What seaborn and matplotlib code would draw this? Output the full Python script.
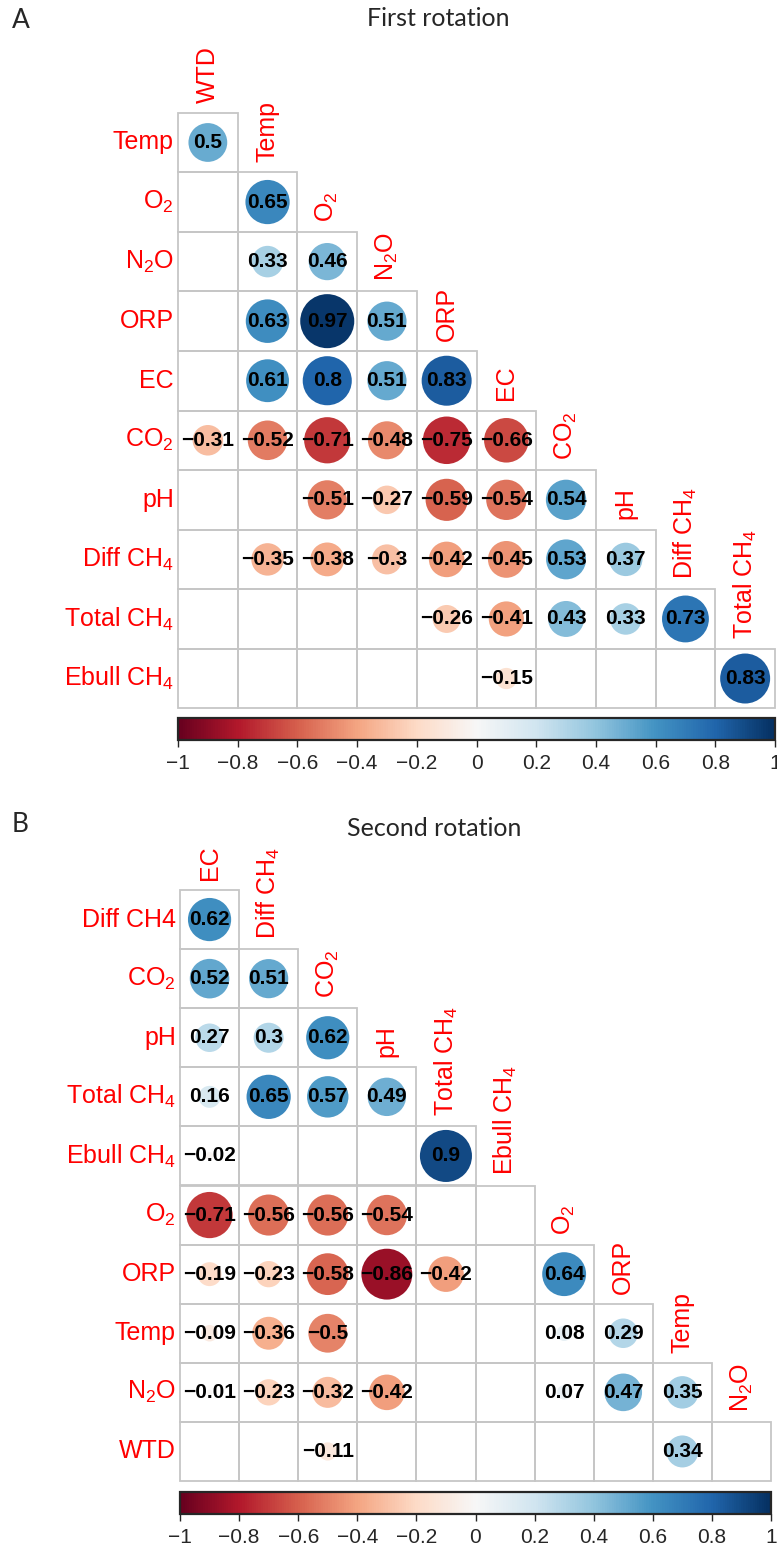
import numpy as np
import pandas as pd
import seaborn as sns
import matplotlib.pyplot as plt
from matplotlib.colors import ListedColormap, Normalize
from matplotlib.cm import ScalarMappable
from matplotlib.patches import Rectangle

# ---- data (None = not significant, left blank) ----
rows_a = ["Temp", "O$_2$", "N$_2$O", "ORP", "EC", "CO$_2$", "pH",
          "Diff CH$_4$", "Total CH$_4$", "Ebull CH$_4$"]
cols_a = ["WTD", "Temp", "O$_2$", "N$_2$O", "ORP", "EC", "CO$_2$", "pH",
          "Diff CH$_4$", "Total CH$_4$"]
corr_a = [
    [0.5],
    [None, 0.65],
    [None, 0.33, 0.46],
    [None, 0.63, 0.97, 0.51],
    [None, 0.61, 0.8, 0.51, 0.83],
    [-0.31, -0.52, -0.71, -0.48, -0.75, -0.66],
    [None, None, -0.51, -0.27, -0.59, -0.54, 0.54],
    [None, -0.35, -0.38, -0.3, -0.42, -0.45, 0.53, 0.37],
    [None, None, None, None, -0.26, -0.41, 0.43, 0.33, 0.73],
    [None, None, None, None, None, -0.15, None, None, None, 0.83],
]

rows_b = ["Diff CH4", "CO$_2$", "pH", "Total CH$_4$", "Ebull CH$_4$", "O$_2$",
          "ORP", "Temp", "N$_2$O", "WTD"]
cols_b = ["EC", "Diff CH$_4$", "CO$_2$", "pH", "Total CH$_4$", "Ebull CH$_4$",
          "O$_2$", "ORP", "Temp", "N$_2$O"]
corr_b = [
    [0.62],
    [0.52, 0.51],
    [0.27, 0.3, 0.62],
    [0.16, 0.65, 0.57, 0.49],
    [-0.02, None, None, None, 0.9],
    [-0.71, -0.56, -0.56, -0.54, None, None],
    [-0.19, -0.23, -0.58, -0.86, -0.42, None, 0.64],
    [-0.09, -0.36, -0.5, None, None, None, 0.08, 0.29],
    [-0.01, -0.23, -0.32, -0.42, None, None, 0.07, 0.47, 0.35],
    [None, None, -0.11, None, None, None, None, None, 0.34, None],
]

cbar_ticks = [-1, -0.8, -0.6, -0.4, -0.2, 0, 0.2, 0.4, 0.6, 0.8, 1]

sns.set_style("white")
plt.rcParams['font.family'] = ['Liberation Sans', 'DejaVu Sans']
plt.rcParams['mathtext.default'] = 'regular'

W, H = 777, 1551
fig = plt.figure(figsize=(W / 100, H / 100), dpi=100)


def fmt(v):
    v = round(v, 2) + 0.0
    return f"{v:g}".replace("-", "\u2212")


def box(left, top, right, bottom):
    return [left / W, 1 - bottom / H, (right - left) / W, (bottom - top) / H]


def draw_panel(ax, cax, rows, cols, corr):
    n = len(rows)
    # white lower-triangle cells, borders drawn below
    mask = np.triu(np.ones((n, n), dtype=bool), k=1)
    sns.heatmap(np.zeros((n, n)), mask=mask, cmap=ListedColormap(["white"]),
                cbar=False, linewidths=0, xticklabels=False,
                yticklabels=rows, ax=ax)
    for i in range(n):
        for j in range(i + 1):
            ax.add_patch(Rectangle((j, i), 1, 1, fill=False, lw=1.3,
                                   edgecolor="#c6c6c6", clip_on=False))

    recs = []
    for i, row in enumerate(corr):
        for j, v in enumerate(row):
            if v is not None:
                recs.append({"x": j + 0.5, "y": i + 0.5, "r": v, "a": abs(v)})
    df = pd.DataFrame(recs)
    sns.scatterplot(data=df, x="x", y="y", hue="r", size="a",
                    palette="RdBu", hue_norm=(-1, 1),
                    sizes=(0, 1560), size_norm=(0, 1),
                    linewidth=0, legend=False, ax=ax, clip_on=False, zorder=3)
    for _, r in df.iterrows():
        ax.text(r["x"], r["y"], fmt(r["r"]), ha="center", va="center",
                fontsize=15, fontweight="bold", color="black", zorder=4)

    for j, c in enumerate(cols):
        ax.text(j + 0.5, j - 0.17, c, rotation=90, ha="center", va="bottom",
                color="red", fontsize=18)

    ax.set_xlim(0, n)
    ax.set_ylim(n, 0)
    ax.set_xlabel("")
    ax.set_ylabel("")
    ax.tick_params(axis="y", length=0, pad=3, labelsize=18,
                   labelcolor="red", labelrotation=0)
    for s in ax.spines.values():
        s.set_visible(False)

    sm = ScalarMappable(norm=Normalize(-1, 1), cmap="RdBu")
    cb = fig.colorbar(sm, cax=cax, orientation="horizontal", ticks=cbar_ticks)
    cb.ax.set_xticklabels([fmt(t) for t in cbar_ticks])
    cb.outline.set_linewidth(1.6)
    cb.ax.tick_params(length=5, width=1, labelsize=15, pad=5)


ax_a = fig.add_axes(box(178, 112.7, 775, 708.3))
cax_a = fig.add_axes(box(178, 718.3, 775, 740))
draw_panel(ax_a, cax_a, rows_a, cols_a, corr_a)

ax_b = fig.add_axes(box(180, 890, 771, 1481))
cax_b = fig.add_axes(box(180, 1491.7, 771, 1514.3))
draw_panel(ax_b, cax_b, rows_b, cols_b, corr_b)

fig.text(12 / W, 1 - 20 / H, "A", ha="left", va="center", fontsize=19,
         family=["Lato", "DejaVu Sans"])
fig.text(438 / W, 1 - 19 / H, "First rotation", ha="center", va="center",
         fontsize=18, family=["Lato", "DejaVu Sans"])
fig.text(12 / W, 1 - 824 / H, "B", ha="left", va="center", fontsize=19,
         family=["Lato", "DejaVu Sans"])
fig.text(434 / W, 1 - 828 / H, "Second rotation", ha="center", va="center",
         fontsize=18, family=["Lato", "DejaVu Sans"])

fig.savefig("out.png", dpi=100)
